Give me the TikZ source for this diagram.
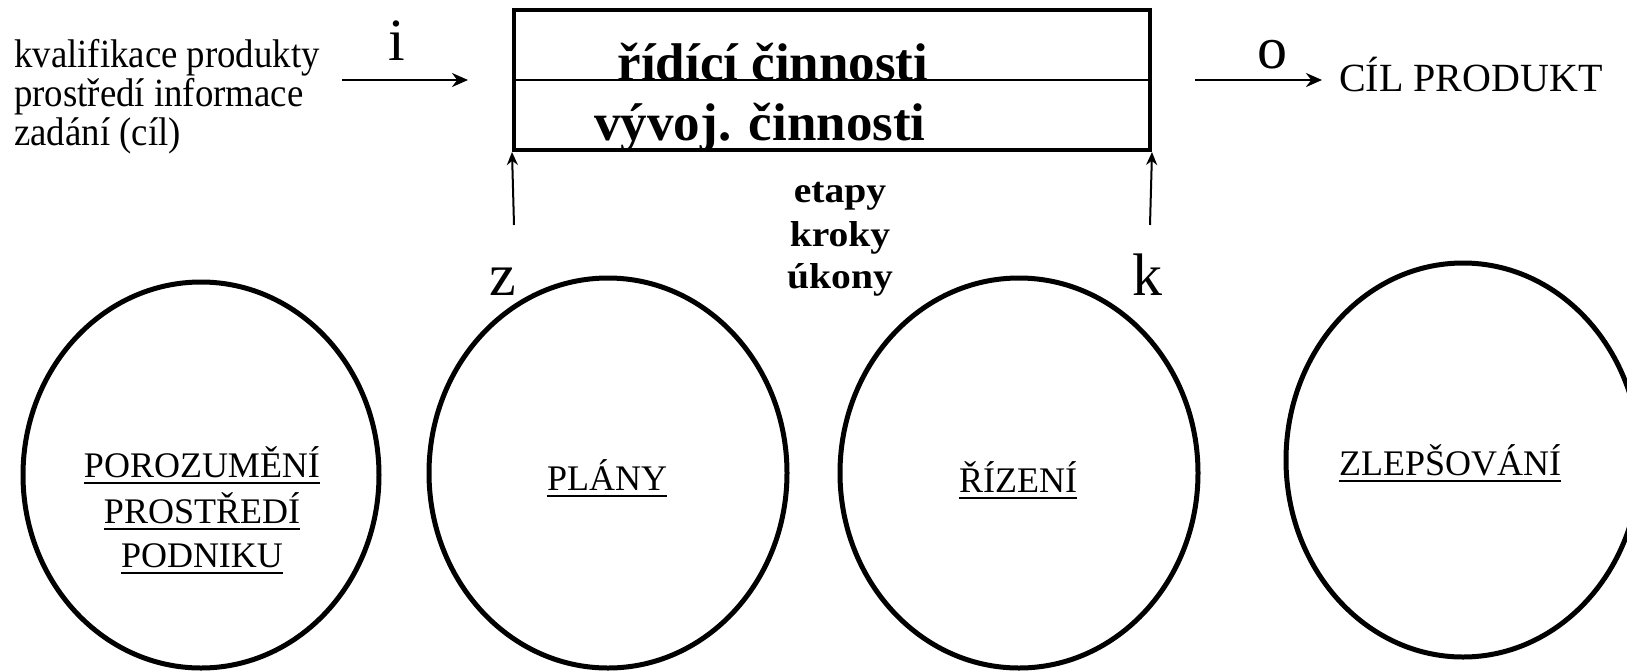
\documentclass[tikz,border=0pt]{standalone}
\usepackage{fontspec}
\setmainfont{Liberation Serif}
\newfontfamily\tnr{Liberation Serif}
\newfontfamily\tnrnarrow[FakeStretch=0.92]{Liberation Serif}
\newfontfamily\tnrwide[FakeStretch=1.1]{Liberation Serif}
\usetikzlibrary{arrows.meta,shapes.geometric}
\newcommand{\myul}[1]{\setbox0\hbox{#1}\rlap{\vrule width\wd0 height -5pt depth 7pt}\box0}
\tikzset{
  txt/.style={inner sep=0pt, font=\tnr\fontsize{36}{40}\selectfont},
  intxt/.style={inner sep=0pt, font=\tnrnarrow\fontsize{40}{44}\selectfont},
  outtxt/.style={inner sep=0pt, font=\tnr\fontsize{40}{44}\selectfont},
  lbl/.style={inner sep=0pt, font=\tnr\fontsize{60}{62}\selectfont},
  boxtxt/.style={inner sep=0pt, font=\tnr\fontsize{53}{56}\selectfont\bfseries},
  smallbold/.style={inner sep=0pt, font=\tnrwide\fontsize{36}{40}\selectfont\bfseries},
  oval/.style={draw, ellipse, line width=5pt, inner sep=0pt},
  flow/.style={line width=2.5pt, -{Stealth[length=16pt,width=14pt]}},
  upflow/.style={line width=2pt, -{Stealth[length=13pt,width=11pt]}},
}
\begin{document}
\begin{tikzpicture}[x=1pt,y=-1pt]
\useasboundingbox (0,0) rectangle (1627,670);
% left input text
\node[intxt, anchor=base west] (in1) at (14,67) {kvalifikace produkty};
\node[intxt, anchor=base west] (in2) at (14,106) {prostředí informace};
\node[intxt, anchor=base west] (in3) at (14,145) {zadání (cíl)};
% main box
\node[draw, line width=4pt, minimum width=636pt, minimum height=140pt, inner sep=0pt] (box) at (832,80) {};
\draw[line width=1.5pt] (box.west) -- (box.east);
\node[boxtxt, anchor=base] (ridici) at (773,80) {řídící činnosti};
\node[boxtxt, anchor=base] (vyvoj) at (760,140) {vývoj. činnosti};
% input arrow
\coordinate (iA) at (342,80);
\coordinate (iB) at (468,80);
\draw[flow] (iA) -- (iB);
\node[lbl, anchor=base] (ilbl) at (397,60) {i};
% output arrow
\coordinate (oA) at (1195,80);
\coordinate (oB) at (1322,80);
\draw[flow] (oA) -- (oB);
\node[lbl, anchor=base] (olbl) at (1272,68) {o};
\node[outtxt, anchor=base west] (cil) at (1339,91) {CÍL PRODUKT};
% up arrows
\coordinate (zA) at (514,225);
\coordinate (kA) at (1150,225);
\draw[upflow] (zA) -- (box.south west);
\draw[upflow] (kA) -- (box.south east);
\node[lbl, anchor=base] (zlbl) at (503,295) {z};
\node[lbl, anchor=base] (klbl) at (1147,295) {k};
% stages
\node[smallbold, anchor=base] (etapy) at (840,202) {etapy};
\node[smallbold, anchor=base] (kroky) at (840,246) {kroky};
\node[smallbold, anchor=base] (ukony) at (840,288) {úkony};
% ellipses
\node[oval, minimum width=356pt, minimum height=386pt] (e1) at (201,475) {};
\node[oval, minimum width=358pt, minimum height=390pt] (e2) at (608,473) {};
\node[oval, minimum width=358pt, minimum height=390pt] (e3) at (1019,473) {};
\node[oval, minimum width=354pt, minimum height=394pt] (e4) at (1463,460) {};
\node[txt, anchor=base] (t1a) at (202,477) {\myul{POROZUMĚNÍ}};
\node[txt, anchor=base] (t1b) at (202,523) {\myul{PROSTŘEDÍ}};
\node[txt, anchor=base] (t1c) at (202,567) {\myul{PODNIKU}};
\node[txt, anchor=base] (t2) at (607,490) {\myul{PLÁNY}};
\node[txt, anchor=base] (t3) at (1018,492) {\myul{ŘÍZENÍ}};
\node[txt, anchor=base] (t4) at (1450,475) {\myul{ZLEPŠOVÁNÍ}};
\end{tikzpicture}
\end{document}
